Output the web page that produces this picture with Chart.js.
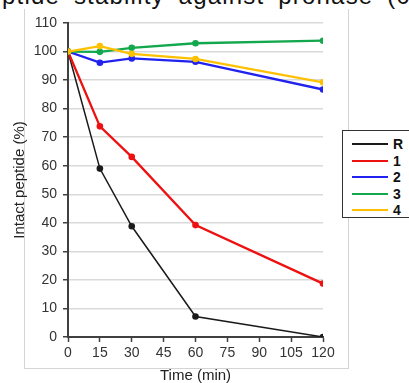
<!DOCTYPE html>
<html>
<head>
<meta charset="utf-8">
<script src="https://cdn.jsdelivr.net/npm/chart.js@4"></script>
<style>
  html, body { margin: 0; padding: 0; background: #fff; overflow: hidden; }
  body { width: 409px; height: 383px; position: relative; font-family: "Liberation Sans", Arial, sans-serif; }
  #titulo {
    position: absolute; left: 2px; top: -18px; white-space: nowrap;
    font-size: 24px; letter-spacing: 1.2px; word-spacing: 6px; color: #111;
  }
  #moldura {
    position: absolute; left: 24px; top: 9px; width: 325px; height: 360px;
    border: 1px solid #d4d4d4; border-top: none; box-sizing: border-box;
  }
  #grafico { position: absolute; left: 0; top: 0; }
  #legenda {
    position: absolute; left: 342px; top: 130px; width: 100px; height: 88px;
    border: 1.5px solid #333; background: #fff; box-sizing: border-box;
  }
  .item { position: absolute; left: 0; height: 16px; }
  .item .linha { position: absolute; left: 9px; width: 36px; height: 2px; top: 7px; }
  .item .nome { position: absolute; left: 50px; top: 0; font-weight: bold; font-size: 14px; color: #111; line-height: 16px; }
</style>
</head>
<body>
<div id="titulo">ptide stability against pronase (0.0005</div>
<div id="moldura"></div>
<canvas id="grafico" width="340" height="390"></canvas>
<div id="legenda"></div>
<script>
// ===== DADOS =====
const tempos = [0, 15, 30, 60, 120];
const xTicks = [0, 15, 30, 45, 60, 75, 90, 105, 120];
const yTicks = [0, 10, 20, 30, 40, 50, 60, 70, 80, 90, 100, 110];

const nomes = ['R', '1', '2', '3', '4'];
const cores = ['#1a1a1a', '#ee1111', '#2222ee', '#13a84d', '#ffc000'];

const serieR = [100, 59, 38.8, 7.2, 0];
const serie1 = [100, 73.8, 63.1, 39.2, 18.7];
const serie2 = [100, 96.1, 97.6, 96.4, 86.7];
const serie3 = [100, 99.9, 101.3, 102.9, 103.8];
const serie4 = [100, 101.9, 99.2, 97.4, 89.2];

const series = [serieR, serie1, serie2, serie3, serie4];

// ===== LEGENDA (HTML) =====
const legenda = document.getElementById('legenda');
const linhasY = [5, 22, 38, 55, 71];
legenda.innerHTML = nomes.map((n, i) => `
  <div class="item" style="top:${linhasY[i]}px">
    <div class="linha" style="background:${cores[i]}"></div>
    <div class="nome">${n}</div>
  </div>
`).join('');

// ===== GRÁFICO =====
const fonte = '"Liberation Sans", Arial, sans-serif';

new Chart(document.getElementById('grafico').getContext('2d'), {
  type: 'line',
  data: {
    datasets: series.map((s, i) => ({
      label: nomes[i],
      data: s.map((v, j) => ({ x: tempos[j], y: v })),
      borderColor: cores[i],
      backgroundColor: cores[i],
      borderWidth: i === 0 ? 1.5 : 2.3,
      pointRadius: 3.3,
      pointBorderWidth: 0,
      tension: 0,
      order: 5 - i
    }))
  },
  options: {
    responsive: false,
    animation: false,
    layout: { padding: { left: 0, right: 17, top: 23, bottom: 5 } },
    plugins: { legend: { display: false }, tooltip: { enabled: false } },
    scales: {
      x: {
        type: 'linear',
        min: 0, max: 120,
        afterBuildTicks: s => { s.ticks = xTicks.map(v => ({ value: v })); },
        afterFit: s => { s.height = 48; },
        grid: { display: true, drawOnChartArea: false, tickLength: 5, tickColor: '#404040', tickWidth: 1.5 },
        border: { color: '#404040', width: 2 },
        ticks: { color: '#333', font: { family: fonte, size: 14 }, padding: 3, maxRotation: 0 },
        title: { display: true, text: 'Time (min)', color: '#222', font: { family: fonte, size: 15 }, padding: { top: 0, bottom: 0 } }
      },
      y: {
        min: 0, max: 110,
        afterBuildTicks: s => { s.ticks = yTicks.map(v => ({ value: v })); },
        afterFit: s => { s.width = 68; },
        grid: { color: '#d9d9d9', lineWidth: 1.5, tickLength: 5, tickColor: '#404040', tickWidth: 1.5 },
        border: { color: '#404040', width: 2 },
        ticks: { color: '#333', font: { family: fonte, size: 14 }, padding: 6 },
        title: { display: true, text: 'Intact peptide (%)', color: '#222', font: { family: fonte, size: 15 }, padding: { top: 11, bottom: 0 } }
      }
    }
  }
});
</script>
</body>
</html>
